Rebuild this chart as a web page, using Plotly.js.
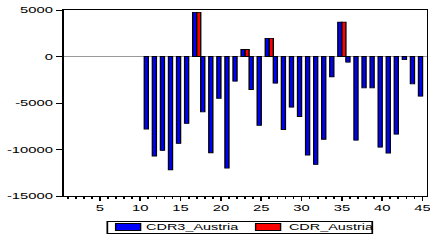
<!DOCTYPE html>
<html>
<head>
<meta charset="utf-8">
<script src="https://cdn.plot.ly/plotly-3.0.1.min.js"></script>
<style>
html,body{margin:0;padding:0;background:#fff;overflow:hidden;}
#wrap{width:430px;height:244px;overflow:hidden;position:relative;}
#chart{width:256px;height:244px;transform:scaleX(1.72);transform-origin:0 0;}
</style>
</head>
<body>
<div id="wrap"><div id="chart"></div></div>
<script>
// observation index 1..45
var obs = [];
for (var i = 1; i <= 45; i++) obs.push(i);

var cdr3Austria = [null, null, null, null, null, null, null, null, null, null,
  -7800, -10700, -10100, -12200, -9350, -7200, 4750, -5950, -10350, -4500,
  -12000, -2650, 750, -3550, -7400, 1950, -2870, -7850, -5450, -6450,
  -10600, -11600, -8900, -2200, 3700, -610, -9000, -3370, -3370, -9750,
  -10380, -8350, -340, -2940, -4270];

var cdrAustria = [null, null, null, null, null, null, null, null, null, null,
  null, null, null, null, null, null, 4750, null, null, null,
  null, null, 750, null, null, 1950, null, null, null, null,
  null, null, null, null, 3700, null, null, null, null, null,
  null, null, null, null, null];

var seriesNames = ['CDR3_Austria', 'CDR_Austria'];
var seriesColors = ['#0000FF', '#FF0000'];

var yTicks = [5000, 0, -5000, -10000, -15000];
var yTickText = ['5000', '0', '-5000', '-10000', '-15000'];
var xTicks = [5, 10, 15, 20, 25, 30, 35, 40, 45];

var font = {family: 'Liberation Sans, Arial, sans-serif', size: 8.6, color: '#000'};
var legendFont = {family: 'Liberation Sans, Arial, sans-serif', size: 8.4, color: '#000'};

var traces = [
  {type: 'bar', name: seriesNames[0], x: obs, y: cdr3Austria, showlegend: false,
   marker: {color: seriesColors[0], line: {color: '#000', width: 0.8}}},
  {type: 'bar', name: seriesNames[1], x: obs, y: cdrAustria, showlegend: false,
   marker: {color: seriesColors[1], line: {color: '#000', width: 0.8}}}
];

// reference-pixel helpers (plot area spans 63..426 horizontally, 10..196 vertically)
function px(v) { return (v - 63) / 363; }
function py(v) { return (196 - v) / 186; }

var shapes = [
  {type: 'rect', xref: 'paper', yref: 'paper', x0: px(106.7), x1: px(371.7), y0: py(233.5), y1: py(221.5),
   line: {color: '#000', width: 1}, fillcolor: 'rgba(0,0,0,0)'},
  {type: 'rect', xref: 'paper', yref: 'paper', x0: px(115), x1: px(140), y0: py(230.5), y1: py(223.5),
   line: {color: '#000', width: 0.8}, fillcolor: seriesColors[0]},
  {type: 'rect', xref: 'paper', yref: 'paper', x0: px(255), x1: px(280), y0: py(230.5), y1: py(223.5),
   line: {color: '#000', width: 0.8}, fillcolor: seriesColors[1]}
];

var annotations = [
  {xref: 'paper', yref: 'paper', x: px(142), y: py(227.3), xanchor: 'left', yanchor: 'middle',
   text: seriesNames[0], showarrow: false, font: legendFont},
  {xref: 'paper', yref: 'paper', x: px(284.5), y: py(227.3), xanchor: 'left', yanchor: 'middle',
   text: seriesNames[1], showarrow: false, font: legendFont}
];

var layout = {
  width: 256, height: 244,
  margin: {l: 36.6, r: 8.3, t: 10, b: 48},
  paper_bgcolor: '#fff', plot_bgcolor: '#fff',
  font: font,
  barmode: 'group', bargap: 0, bargroupgap: 0,
  showlegend: false,
  shapes: shapes,
  annotations: annotations,
  xaxis: {range: [0.5, 45.5], tickmode: 'array', tickvals: xTicks,
    ticks: 'outside', ticklen: 4, tickwidth: 1, tickcolor: '#000',
    minor: {dtick: 1, tick0: 0, ticks: 'outside', ticklen: 2, tickwidth: 1, tickcolor: '#000', showgrid: false},
    showline: true, linecolor: '#000', linewidth: 1, mirror: true, ticklabeloverflow: 'allow',
    showgrid: false, zeroline: false, tickfont: font, fixedrange: true, automargin: false},
  yaxis: {range: [-15000, 5000], tickmode: 'array', tickvals: yTicks, ticktext: yTickText,
    ticks: 'outside', ticklen: 3.5, tickwidth: 1, tickcolor: '#000',
    showline: true, linecolor: '#000', linewidth: 1, mirror: true, ticklabeloverflow: 'allow',
    showgrid: false, zeroline: true, zerolinecolor: '#999', zerolinewidth: 1.5,
    tickfont: font, fixedrange: true, automargin: false}
};

Plotly.newPlot('chart', traces, layout, {staticPlot: true, displayModeBar: false});
</script>
</body>
</html>
